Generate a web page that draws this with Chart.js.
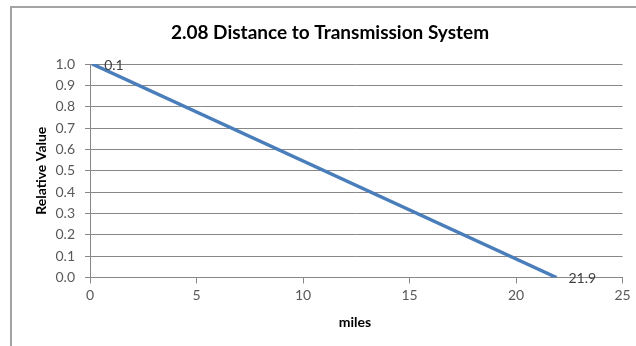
<!DOCTYPE html>
<html>
<head>
<meta charset="utf-8">
<script src="https://cdn.jsdelivr.net/npm/chart.js@4/dist/chart.umd.min.js"></script>
<style>
  html, body { margin: 0; padding: 0; background: #ffffff; }
  #wrap { width: 636px; height: 346px; position: relative; }
</style>
</head>
<body>
<div id="wrap"><canvas id="chart" width="636" height="346"></canvas></div>
<script>
// Distance to transmission system (miles) against relative value
const miles = [0.1, 21.9];
const relativeValue = [1.0, 0.0];
const xTicks = [0, 5, 10, 15, 20, 25];
const yTicks = [0.0, 0.1, 0.2, 0.3, 0.4, 0.5, 0.6, 0.7, 0.8, 0.9, 1.0];

const chartTitle = '2.08 Distance to Transmission System';
const xTitle = 'miles';
const yTitle = 'Relative Value';

const FONT = 'Lato, "Open Sans", sans-serif';
const GRID = '#888888';

const points = miles.map((m, i) => ({ x: m, y: relativeValue[i] }));

// Frame, titles and point labels
const decorations = {
  id: 'decorations',
  beforeDraw(chart) {
    const ctx = chart.ctx;
    ctx.save();
    ctx.fillStyle = '#ffffff';
    ctx.fillRect(0, 0, chart.width, chart.height);
    ctx.strokeStyle = '#a3a3a3';
    ctx.lineWidth = 2;
    ctx.strokeRect(11, 7, 700, 400);
    ctx.restore();
  },
  afterDraw(chart) {
    const ctx = chart.ctx;
    const area = chart.chartArea;
    ctx.save();
    ctx.fillStyle = '#000000';
    ctx.textAlign = 'center';
    ctx.textBaseline = 'middle';
    ctx.font = 'bold 19px ' + FONT;
    ctx.fillText(chartTitle, 330, 33);

    ctx.font = 'bold 14px ' + FONT;
    ctx.fillText(xTitle, 355, 322);

    ctx.translate(41, (area.top + area.bottom) / 2);
    ctx.rotate(-Math.PI / 2);
    ctx.fillText(yTitle, 0, 0);
    ctx.restore();

    // value labels to the right of each point
    const xs = chart.scales.x, ys = chart.scales.y;
    ctx.save();
    ctx.font = '14px ' + FONT;
    ctx.fillStyle = '#404040';
    ctx.textAlign = 'left';
    ctx.textBaseline = 'middle';
    points.forEach(p => {
      const px = xs.getPixelForValue(p.x);
      const py = ys.getPixelForValue(p.y);
      ctx.fillText(p.x.toFixed(1), px + 12, py + 1);
    });
    ctx.restore();
  }
};

new Chart(document.getElementById('chart'), {
  type: 'scatter',
  data: {
    datasets: [{
      data: points,
      showLine: true,
      borderColor: '#4a7ebb',
      backgroundColor: '#4a7ebb',
      borderWidth: 3.5,
      pointRadius: 0,
      pointHoverRadius: 0,
      tension: 0
    }]
  },
  options: {
    responsive: false,
    animation: false,
    events: [],
    layout: { padding: { top: 64, right: 13.5, left: 0, bottom: 0 } },
    plugins: {
      legend: { display: false },
      title: { display: false },
      tooltip: { enabled: false }
    },
    scales: {
      x: {
        type: 'linear',
        min: xTicks[0],
        max: xTicks[xTicks.length - 1],
        afterBuildTicks(scale) { scale.ticks = xTicks.map(v => ({ value: v })); },
        afterFit(scale) { scale.height = 68.5; },
        ticks: {
          color: '#595959',
          font: { family: FONT, size: 14 },
          padding: 4,
          maxRotation: 0,
          callback: v => String(v)
        },
        grid: { drawOnChartArea: false, drawTicks: true, tickLength: 6, color: GRID },
        border: { display: true, color: GRID, width: 1 }
      },
      y: {
        type: 'linear',
        min: yTicks[0],
        max: yTicks[yTicks.length - 1],
        afterBuildTicks(scale) { scale.ticks = yTicks.map(v => ({ value: v })); },
        afterFit(scale) { scale.width = 90; },
        ticks: {
          color: '#595959',
          font: { family: FONT, size: 14 },
          padding: 10,
          callback: v => Number(v).toFixed(1)
        },
        grid: { drawTicks: true, tickLength: 5, color: GRID, lineWidth: 1 },
        border: { display: true, color: GRID, width: 1 }
      }
    }
  },
  plugins: [decorations]
});
</script>
</body>
</html>
